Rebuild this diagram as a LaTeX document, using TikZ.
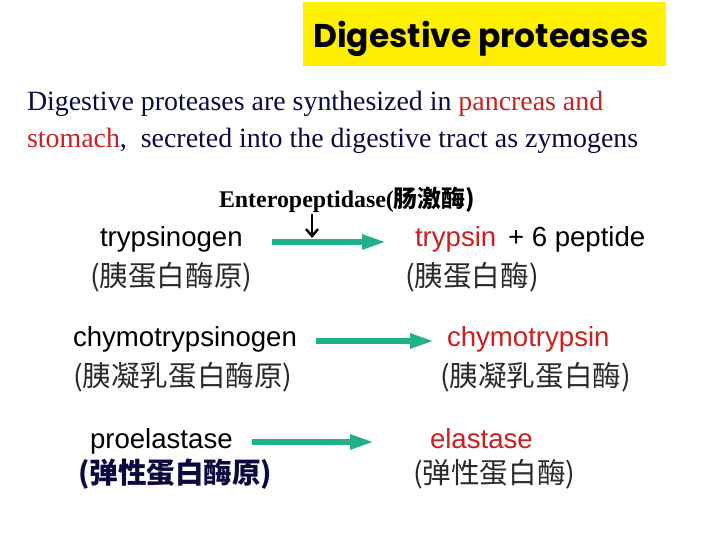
\documentclass[tikz,border=0pt]{standalone}
\usepackage{fontspec}
\setmainfont{Liberation Serif}
\newfontfamily\arialf{Liberation Sans}
\newfontfamily\titlef{Poppins}
\newfontfamily\cjkf{Noto Sans CJK SC}
\usetikzlibrary{arrows.meta}
\definecolor{navy}{HTML}{0A0A40}
\definecolor{myred}{HTML}{CC1F1F}
\definecolor{arrgreen}{HTML}{22B08A}
\definecolor{cjkgray}{HTML}{2A2A2A}
\definecolor{ttlyellow}{HTML}{FFF200}
\tikzset{
  txt/.style={anchor=base west, inner sep=0pt, outer sep=0pt},
  body/.style={txt, font=\fontsize{28}{32}\selectfont, text=navy},
  sans/.style={txt, font=\arialf\fontsize{27.7}{32}\selectfont},
  cjk/.style={txt, font=\cjkf\fontsize{28.7}{32}\selectfont, text=cjkgray},
  convarrow/.style={draw=arrgreen, line width=5.5bp, -{Triangle[length=24bp,width=14bp,fill=arrgreen]}, shorten >=0pt},
}
\begin{document}
\begin{tikzpicture}[x=1bp,y=-1bp]
\useasboundingbox (0,0) rectangle (720,540);
\fill[white] (0,0) rectangle (720,540);
% title
\shade[top color=ttlyellow, bottom color=yellow!85!orange] (303,3) rectangle (666,66);
\node[anchor=center, inner sep=0pt, font=\titlef\bfseries\fontsize{33}{38}\selectfont] (title) at (481,39) {Digestive proteases};
% body text
\node[body] (l1) at (27,111) {Digestive proteases are synthesized in \textcolor{myred}{pancreas and}};
\node[body] (l2) at (27,148) {\textcolor{myred}{stomach},\ \ secreted into the digestive tract as zymogens};
% enteropeptidase
\node[txt, font=\bfseries\fontsize{24}{28}\selectfont] (entero) at (219,208) {Enteropeptidase(\cjkf 肠激酶)};
\coordinate (dtop) at (312,214);
\coordinate (dbot) at (312,238);
\draw[line width=2.5bp, -{Straight Barb[length=7bp,width=12bp]}] (dtop) -- (dbot);
% row 1
\node[sans] (tgen) at (100,247) {trypsinogen};
\coordinate (a1s) at (272,242);
\coordinate (a1e) at (386,242);
\draw[convarrow] (a1s) -- (a1e);
\node[sans, text=myred] (tryp) at (415,247) {trypsin};
\node[sans] (pep) at (508,247) {+ 6 peptide};
\node[cjk] (c1l) at (90,287) {(胰蛋白酶原)};
\node[cjk] (c1r) at (405,287) {(胰蛋白酶)};
% row 2
\node[sans] (cgen) at (73,346) {chymotrypsinogen};
\coordinate (a2s) at (316,341);
\coordinate (a2e) at (434,341);
\draw[convarrow] (a2s) -- (a2e);
\node[sans, text=myred] (chym) at (447,346) {chymotrypsin};
\node[cjk] (c2l) at (73,386) {(胰凝乳蛋白酶原)};
\node[cjk] (c2r) at (440,386) {(胰凝乳蛋白酶)};
% row 3
\node[sans] (pela) at (90,448) {proelastase};
\coordinate (a3s) at (252,442);
\coordinate (a3e) at (374,442);
\draw[convarrow] (a3s) -- (a3e);
\node[sans, text=myred] (ela) at (430,448) {elastase};
\node[cjk, text=navy, font=\cjkf\bfseries\fontsize{28.7}{32}\selectfont] (c3l) at (78,483) {(弹性蛋白酶原)};
\node[cjk] (c3r) at (413,483) {(弹性蛋白酶)};
\end{tikzpicture}
\end{document}
